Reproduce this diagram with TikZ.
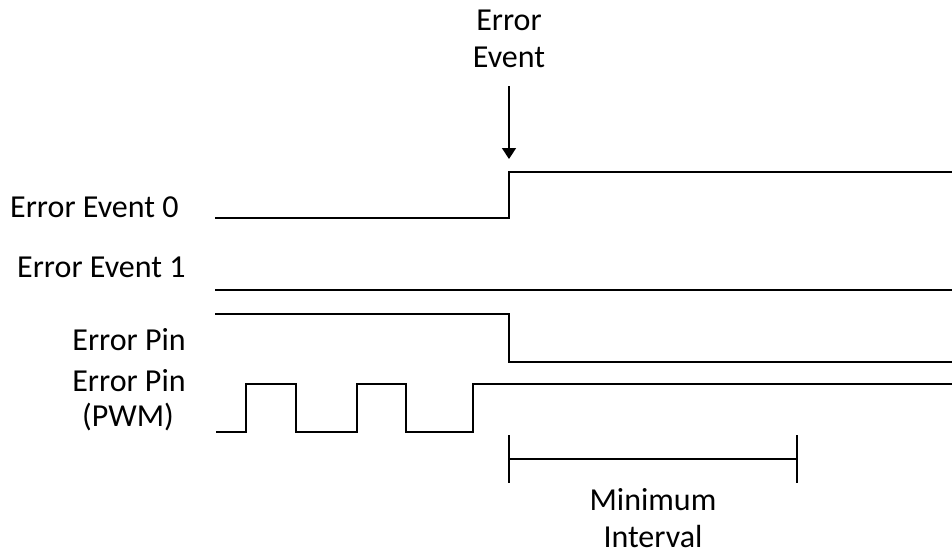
\documentclass[tikz,border=0pt]{standalone}
\usepackage{fontspec}
\setmainfont{Carlito}
\usetikzlibrary{arrows.meta}
\begin{document}
\begin{tikzpicture}[x=1pt,y=-1pt,
  sig/.style={line width=1.8pt, line join=miter},
  lbl/.style={font=\fontsize{32}{37}\selectfont, inner sep=0pt, align=center}]
\useasboundingbox (0,0) rectangle (952,554);
% labels
\node[lbl, anchor=base west] (l0) at (10,217) {Error Event 0};
\node[lbl, anchor=base west] (l1) at (17,277) {Error Event 1};
\node[lbl, anchor=base east] (lp) at (186,350) {Error Pin};
\node[lbl, anchor=base] (lpwm1) at (129,391) {Error Pin};
\node[lbl, anchor=base] (lpwm2) at (128,426) {(PWM)};
\node[lbl, anchor=base] (ev1) at (509,30) {Error};
\node[lbl, anchor=base] (ev2) at (509,67) {Event};
\node[lbl, anchor=base] (mi1) at (653,510) {Minimum};
\node[lbl, anchor=base] (mi2) at (653,547) {Interval};
% signals
\draw[sig] (215,218) -- (509,218) -- (509,172) -- (952,172);
\draw[sig] (215,290) -- (952,290);
\draw[sig] (215,314) -- (509,314) -- (509,362) -- (952,362);
\draw[sig] (216,432) -- (246,432) -- (246,384) -- (296,384) -- (296,432)
  -- (357,432) -- (357,384) -- (406,384) -- (406,432) -- (473,432)
  -- (473,384) -- (952,384);
% arrow
\coordinate (at) at (509,86);
\coordinate (ah) at (509,159);
\draw[line width=1.5pt, -{Triangle[length=11pt,width=14pt]}] (at) -- (ah);
% interval
\coordinate (il) at (509,459);
\coordinate (ir) at (797,459);
\draw[line width=1.5pt] (il) -- (ir);
\draw[line width=1.5pt] (509,435) -- (509,483);
\draw[line width=1.5pt] (797,435) -- (797,483);
\end{tikzpicture}
\end{document}
